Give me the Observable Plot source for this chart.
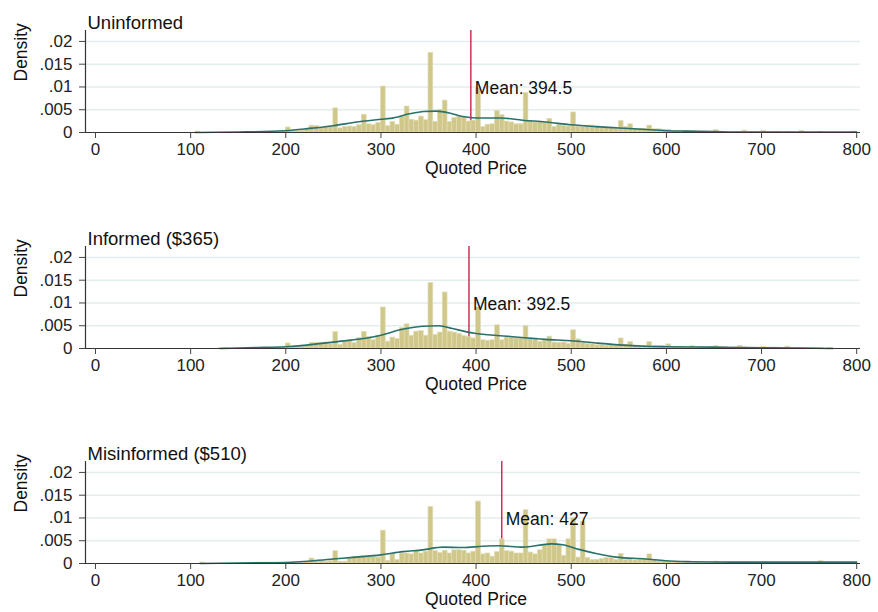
<!DOCTYPE html>
<html><head><meta charset="utf-8">
<script src="https://cdn.jsdelivr.net/npm/d3@7"></script>
<script src="https://cdn.jsdelivr.net/npm/@observablehq/plot@0.6"></script>
<style>
body{margin:0;background:#fff;}
#chart{width:878px;}
#chart svg{display:block;}
</style></head><body><div id="chart"></div>
<script>
// Bin starts (width 5)
const binStarts = [
100,105,110,115,120,125,130,135,140,145,
150,155,160,165,170,175,180,185,190,195,
200,205,210,215,220,225,230,235,240,245,
250,255,260,265,270,275,280,285,290,295,
300,305,310,315,320,325,330,335,340,345,
350,355,360,365,370,375,380,385,390,395,
400,405,410,415,420,425,430,435,440,445,
450,455,460,465,470,475,480,485,490,495,
500,505,510,515,520,525,530,535,540,545,
550,555,560,565,570,575,580,585,590,595,
600,605,610,615,620,625,630,635,640,645,
650,655,660,665,670,675,680,685,690,695,
700,705,710,715,720,725,730,735,740,745,
750,755,760,765,770,775,780,785,790,795];

const uninformedDensity = [
0,0.0002,0,0,0,0,0,0,0,0,
0,0,0.0001,0,0,0,0.0001,0,0.0002,0.0002,
0.0011,0.0003,0.0003,0.0004,0.0007,0.0015,0.0014,0.0010,0.0012,0.0013,
0.0053,0.0009,0.0012,0.0013,0.0012,0.0016,0.0039,0.0018,0.0016,0.0021,
0.0101,0.0014,0.0023,0.0017,0.0035,0.0057,0.0028,0.0026,0.0035,0.0027,
0.0175,0.0023,0.0050,0.0070,0.0023,0.0032,0.0034,0.0034,0.0024,0.0026,
0.0097,0.0012,0.0017,0.0018,0.0047,0.0038,0.0024,0.0022,0.0018,0.0018,
0.0087,0.0025,0.0022,0.0023,0.0021,0.0030,0.0012,0.0016,0.0015,0.0013,
0.0044,0.0013,0.0012,0.0015,0.0015,0.0013,0.0009,0.0010,0.0009,0.0008,
0.0025,0.0012,0.0018,0.0008,0.0008,0.0008,0.0015,0.0007,0.0007,0.0006,
0.0006,0.0003,0.0003,0.0003,0.0003,0.0003,0.0002,0.0002,0.0002,0.0002,
0.0005,0.0002,0.0001,0.0001,0.0001,0.0001,0.0004,0.0001,0.0001,0.0001,
0.0003,0.0001,0.0001,0.0001,0,0.0001,0,0,0.0003,0,
0,0,0.0001,0,0,0,0,0,0,0.0002];

const informedDensity = [
0,0,0,0,0,0,0.0001,0.0001,0,0,
0,0,0,0.0001,0,0.0002,0.0001,0.0001,0.0002,0.0002,
0.0011,0.0003,0.0003,0.0004,0.0005,0.0012,0.0012,0.0012,0.0013,0.0009,
0.0036,0.0008,0.0014,0.0018,0.0012,0.0023,0.0036,0.0025,0.0018,0.0028,
0.0090,0.0015,0.0024,0.0021,0.0045,0.0053,0.0028,0.0037,0.0038,0.0028,
0.0144,0.0030,0.0035,0.0123,0.0037,0.0035,0.0032,0.0027,0.0025,0.0022,
0.0090,0.0018,0.0017,0.0018,0.0051,0.0018,0.0024,0.0024,0.0022,0.0022,
0.0049,0.0023,0.0022,0.0015,0.0018,0.0026,0.0013,0.0012,0.0013,0.0010,
0.0040,0.0020,0.0012,0.0010,0.0009,0.0007,0.0007,0.0006,0.0007,0.0006,
0.0022,0.0008,0.0014,0.0006,0.0005,0.0006,0.0014,0.0006,0.0005,0.0005,
0.0009,0.0003,0.0003,0.0003,0.0002,0.0005,0.0003,0.0003,0.0002,0.0003,
0.0005,0.0003,0.0003,0.0002,0.0003,0.0006,0.0003,0.0002,0.0002,0.0002,
0.0003,0.0002,0.0002,0.0002,0.0001,0.0004,0.0001,0.0001,0.0001,0.0001,
0.0001,0.0001,0.0001,0,0.0001,0,0,0,0,0];

const misinformedDensity = [
0,0,0.0002,0,0,0,0,0,0,0,
0,0,0,0.0001,0.0002,0.0002,0.0002,0.0002,0,0,
0.0002,0.0002,0.0002,0.0001,0.0003,0.0011,0.0005,0.0005,0.0004,0.0005,
0.0027,0.0004,0.0004,0.0011,0.0015,0.0015,0.0016,0.0015,0.0014,0.0013,
0.0072,0.0006,0.0021,0.0008,0.0022,0.0022,0.0020,0.0027,0.0022,0.0026,
0.0124,0.0027,0.0023,0.0028,0.0022,0.0029,0.0029,0.0028,0.0022,0.0026,
0.0136,0.0020,0.0022,0.0015,0.0025,0.0053,0.0027,0.0026,0.0022,0.0022,
0.0117,0.0024,0.0020,0.0029,0.0040,0.0053,0.0053,0.0040,0.0017,0.0053,
0.0100,0.0013,0.0091,0.0012,0.0008,0.0008,0.0010,0.0012,0.0012,0.0008,
0.0021,0.0008,0.0009,0.0007,0.0008,0.0009,0.0020,0.0008,0.0005,0.0005,
0.0004,0.0002,0.0003,0.0002,0.0002,0.0002,0.0003,0.0002,0.0002,0.0002,
0.0004,0.0002,0.0002,0.0002,0.0002,0.0002,0.0002,0.0002,0.0002,0.0001,
0.0002,0.0001,0.0001,0.0001,0.0001,0.0001,0.0001,0.0001,0.0001,0.0001,
0.0001,0.0001,0.0005,0.0001,0.0001,0.0001,0.0001,0.0001,0.0001,0.0001];

// Kernel density curves
const uninformedKdeX = [105,150,200,225,250,275,300,310,330,345,358,372,386,400,425,449,473,500,526,550,575,600,620,648,683,720,760,800];
const uninformedKdeY = [0,0.0001,0.0004,0.0009,0.0015,0.0023,0.0029,0.0031,0.0041,0.0046,0.0047,0.0043,0.0035,0.0032,0.0032,0.0027,0.0023,0.0017,0.0013,0.0010,0.0007,0.0004,0.0003,0.0002,0.0001,0.0001,0.0001,0.0001];
const informedKdeX = [131,170,200,250,300,320,344,361,375,389,400,433,473,500,526,550,578,600,648,700,740,775];
const informedKdeY = [0,0.0002,0.0004,0.0014,0.0029,0.0041,0.0049,0.0050,0.0044,0.0037,0.0033,0.0027,0.0020,0.0017,0.0012,0.0008,0.0005,0.0004,0.0003,0.00015,0.0001,0];
const misinformedKdeX = [110,150,200,250,274,300,323,344,365,386,407,424,449,479,491,508,526,547,578,599,627,669,718,800];
const misinformedKdeY = [0,0.0001,0.0002,0.0010,0.0014,0.0019,0.0026,0.0030,0.0036,0.0035,0.0038,0.0039,0.0036,0.0043,0.0041,0.0031,0.0022,0.0014,0.0010,0.0006,0.0004,0.0003,0.0003,0.0003];

const titles = ["Uninformed", "Informed ($365)", "Misinformed ($510)"];
const means = [394.5, 392.5, 427];
const xTicks = [0,100,200,300,400,500,600,700,800];
const yTicks = [0,0.005,0.01,0.015,0.02];
const xDomain = [-10.5, 804];
const yDomain = [0, 0.0224];
const meanLabelY = 0.0097;
const panelHeights = [216, 215, 181];

const densities = [uninformedDensity, informedDensity, misinformedDensity];
const kdeXs = [uninformedKdeX, informedKdeX, misinformedKdeX];
const kdeYs = [uninformedKdeY, informedKdeY, misinformedKdeY];

const fmtY = d => d === 0 ? "0" : String(d).replace(/^0/, "");
const FONT = "'Liberation Sans', Arial, Helvetica, sans-serif";

function panel(i) {
  const height = panelHeights[i];
  const bars = binStarts.map((x, j) => ({price: x, density: densities[i][j]})).filter(d => d.density > 0);
  const kde = kdeXs[i].map((x, j) => ({price: x, density: kdeYs[i][j]}));
  return Plot.plot({
    width: 878, height,
    marginLeft: 85, marginRight: 18, marginTop: 30, marginBottom: height - 132,
    style: {fontFamily: FONT, fontSize: "17px", color: "#222", background: "#fff"},
    x: {domain: xDomain, label: null},
    y: {domain: yDomain, label: null},
    marks: [
      Plot.gridY(yTicks.filter(d => d > 0), {stroke: "#e4eded", strokeOpacity: 1, strokeWidth: 1.4}),
      Plot.ruleX([means[i]], {y1: 0, y2: yDomain[1], stroke: "#c8103c", strokeWidth: 1.3}),
      Plot.rectY(bars, {x: "price", y: "density", interval: 5, inset: 0, fill: "#d0c78a", stroke: "#e2dcb0", strokeWidth: 0.7}),
      Plot.line(kde, {x: "price", y: "density", curve: "monotone-x", stroke: "#2a716c", strokeWidth: 1.6}),
      Plot.text([means[i]], {x: d => d, y: meanLabelY, text: d => `Mean: ${d}`, textAnchor: "start", lineAnchor: "middle", dx: 4, fontSize: 17.5, fill: "#111"}),
      Plot.ruleY([0], {stroke: "#333", strokeWidth: 1.2}),
      Plot.ruleX([xDomain[0]], {y1: yDomain[0], y2: yDomain[1], stroke: "#333", strokeWidth: 1.2}),
      Plot.axisX({ticks: xTicks, tickSize: 6, tickPadding: 4, fontSize: 17, label: null, stroke: "#444"}),
      Plot.axisY({ticks: yTicks, tickFormat: fmtY, tickSize: 6, tickPadding: 7, fontSize: 17, label: null, stroke: "#444"}),
      Plot.text([titles[i]], {frameAnchor: "top-left", text: d => d, textAnchor: "start", lineAnchor: "bottom", dx: 2, dy: -2, fontSize: 18.5, fill: "#111"}),
      Plot.text(["Density"], {frameAnchor: "left", text: d => d, rotate: -90, dx: -64, fontSize: 17.5, fill: "#111"}),
      Plot.text(["Quoted Price"], {frameAnchor: "bottom", text: d => d, dy: 41, dx: 3, fontSize: 17.5, fill: "#111"})
    ]
  });
}

const chart = document.getElementById("chart");
for (let i = 0; i < 3; i++) chart.appendChild(panel(i));
</script>
</body></html>
